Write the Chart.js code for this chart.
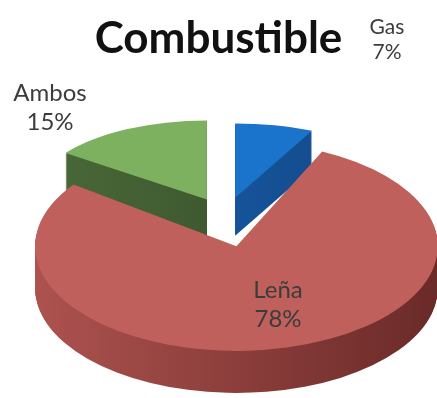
<!DOCTYPE html>
<html>
<head>
<meta charset="utf-8">
<script src="https://cdn.jsdelivr.net/npm/chart.js@4"></script>
<style>
  html, body { margin: 0; padding: 0; background: #fff; }
  #chart { display: block; }
</style>
</head>
<body>
<canvas id="chart" width="437" height="398"></canvas>
<script>
// slices listed back to front so the painter order comes out right
const categories = ['Ambos', 'Gas', 'Leña'];
const shares = [15, 7, 78];
const topColors = ['#7db05f', '#1b74cc', '#c0605c'];
const wallColors = [
    ['#4a6a38', '#34492a'],
    ['#1a5fae', '#114784'],
    ['#ad524f', '#6a2a28']
];

// where each label sits, in canvas pixels
const labelSpots = [
    { x: 50, y: 93, size: 24 },
    { x: 387, y: 27, size: 21 },
    { x: 278, y: 290, size: 24 }
];

const CENTER_X = 226;
const CENTER_Y = 219;
const TILT = 0.52;
const RADIUS = 190;
const EXPLODE = 42;

// fake perspective: slices at the back look smaller and flatter,
// the big front slice sits a little lower
const perspective = [
    { sx: 0.92, sy: 0.80, depth: 38, lift: 0 },
    { sx: 0.95, sy: 0.75, depth: 38, lift: 0 },
    { sx: 1.06, sy: 1.06, depth: 42, lift: 6 }
];

function place(ctx, arc, i, drop) {
    const mid = (arc.startAngle + arc.endAngle) / 2;
    const p = perspective[i];
    ctx.translate(CENTER_X + Math.cos(mid) * EXPLODE,
        CENTER_Y + Math.sin(mid) * EXPLODE * TILT + p.lift + drop);
    ctx.scale(p.sx, TILT * p.sy);
    ctx.translate(-arc.x, -arc.y);
}

const pie3d = {
    id: 'pie3d',
    beforeDatasetsDraw(chart) {
        const ctx = chart.ctx;
        const arcs = chart.getDatasetMeta(0).data;
        arcs.forEach((arc, i) => {
            // side wall: the slice outline stacked downwards
            for (let t = perspective[i].depth; t > 0; t--) {
                ctx.save();
                place(ctx, arc, i, t);
                const grad = ctx.createLinearGradient(arc.x - arc.outerRadius, 0, arc.x + arc.outerRadius, 0);
                grad.addColorStop(0, wallColors[i][0]);
                grad.addColorStop(1, wallColors[i][1]);
                ctx.fillStyle = grad;
                ctx.beginPath();
                ctx.moveTo(arc.x, arc.y);
                ctx.arc(arc.x, arc.y, arc.outerRadius, arc.startAngle, arc.endAngle);
                ctx.closePath();
                ctx.fill();
                ctx.restore();
            }

            // top face
            ctx.save();
            place(ctx, arc, i, 0);
            arc.draw(ctx);
            ctx.restore();
        });
        return false;
    },
    afterDraw(chart) {
        const ctx = chart.ctx;
        ctx.save();
        ctx.fillStyle = '#3c3c3c';
        ctx.textAlign = 'center';
        ctx.textBaseline = 'middle';
        categories.forEach((name, i) => {
            const spot = labelSpots[i];
            ctx.font = spot.size + 'px Lato';
            ctx.fillText(name, spot.x, spot.y);
            ctx.fillText(shares[i] + '%', spot.x, spot.y + spot.size * 1.2);
        });
        ctx.restore();
    }
};

new Chart(document.getElementById('chart'), {
    type: 'pie',
    data: {
        labels: categories,
        datasets: [{
            data: shares,
            backgroundColor: topColors,
            borderWidth: 0,
            radius: RADIUS
        }]
    },
    options: {
        responsive: false,
        animation: false,
        rotation: -54,
        plugins: {
            legend: { display: false },
            tooltip: { enabled: false },
            title: {
                display: true,
                text: 'Combustible',
                color: '#111',
                font: { family: 'Lato', size: 44, weight: 'bold' },
                padding: { top: 12, bottom: 10 }
            }
        }
    },
    plugins: [pie3d]
});
</script>
</body>
</html>
